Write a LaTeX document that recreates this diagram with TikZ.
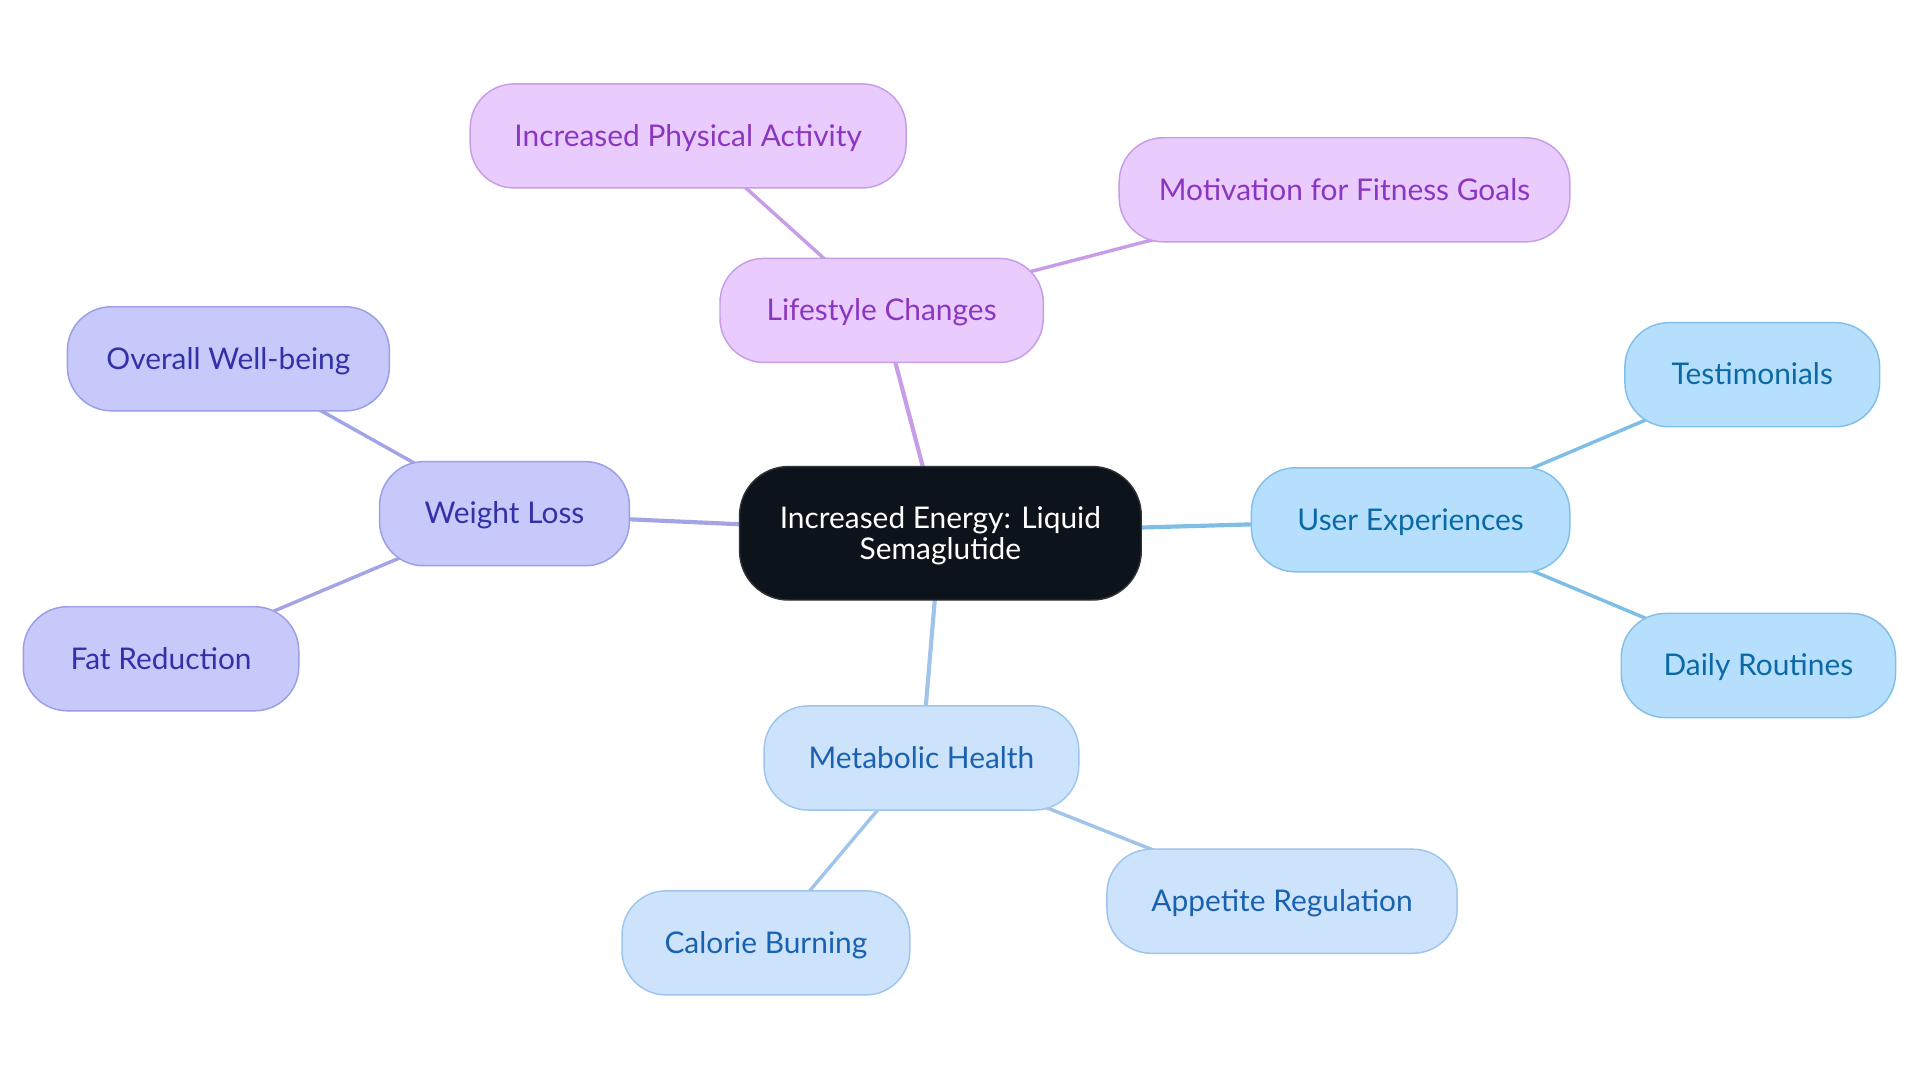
\documentclass[tikz,border=0pt]{standalone}
\usepackage{fontspec}
\setmainfont{Lato}
\usetikzlibrary{backgrounds}
\definecolor{pfill}{HTML}{E9CCFD}
\definecolor{pdraw}{HTML}{C69EE6}
\definecolor{ptext}{HTML}{8B36C2}
\definecolor{pline}{HTML}{C89DE8}
\definecolor{ifill}{HTML}{C7C9FB}
\definecolor{idraw}{HTML}{9C9EE6}
\definecolor{itext}{HTML}{3330A8}
\definecolor{iline}{HTML}{A3A4E6}
\definecolor{sfill}{HTML}{B5DFFC}
\definecolor{sdraw}{HTML}{80C0EA}
\definecolor{stext}{HTML}{0B69A6}
\definecolor{sline}{HTML}{7EBDE6}
\definecolor{bfill}{HTML}{CDE3FB}
\definecolor{bdraw}{HTML}{9EC5EE}
\definecolor{btext}{HTML}{1A62B0}
\definecolor{bline}{HTML}{A0C4EA}
\definecolor{cfill}{HTML}{0D131A}
\definecolor{cdraw}{HTML}{2E3338}
\begin{document}
\begin{tikzpicture}[x=0.5pt,y=-0.5pt,
  basebox/.style={rectangle, rounded corners=18pt, line width=0.6pt, inner sep=0pt,
    align=center, font=\fontsize{12.2}{12.5}\selectfont, minimum height=42.5pt},
  box/.style={basebox, text height=11pt, text depth=2.6pt},
  pbox/.style={box, fill=pfill, draw=pdraw, text=ptext},
  ibox/.style={box, fill=ifill, draw=idraw, text=itext},
  sbox/.style={box, fill=sfill, draw=sdraw, text=stext},
  bbox/.style={box, fill=bfill, draw=bdraw, text=btext},
  cbox/.style={basebox, fill=cfill, draw=cdraw, text=white, rounded corners=20pt, minimum height=54.5pt},
  mainedge/.style={line width=1.7pt},
  subedge/.style={line width=1.4pt}]
\useasboundingbox (0,0) rectangle (1568,884.4);
% nodes
\node[cbox, minimum width=164pt] (c) at (768,435.5) {\rule{0pt}{11pt}Increased Energy: Liquid\\Semaglutide};
\node[pbox, minimum width=132pt] (ls) at (720,253.5) {Lifestyle Changes};
\node[pbox, minimum width=178pt] (ipa) at (562,111) {Increased Physical Activity};
\node[pbox, minimum width=184pt] (mfg) at (1098,155) {Motivation for Fitness Goals};
\node[ibox, minimum width=102pt] (wl) at (412,419.5) {Weight Loss};
\node[ibox, minimum width=131.5pt] (owb) at (186.5,293) {Overall Well-being};
\node[ibox, minimum width=112.5pt] (fr) at (131.5,538) {Fat Reduction};
\node[sbox, minimum width=130pt] (ue) at (1152,424.5) {User Experiences};
\node[sbox, minimum width=104pt] (te) at (1431,306) {Testimonials};
\node[sbox, minimum width=112pt] (dr) at (1436,543.5) {Daily Routines};
\node[bbox, minimum width=128.5pt] (mh) at (752.5,619) {Metabolic Health};
\node[bbox, minimum width=117.5pt] (cb) at (625.5,770) {Calorie Burning};
\node[bbox, minimum width=143pt] (ar) at (1047,736) {Appetite Regulation};
% connectors
\begin{scope}[on background layer]
\fill[white] (0,0) rectangle (1568,884.4);
\draw[mainedge, pline] (c.center) -- (ls.center);
\draw[subedge, pline] (ls.center) -- (ipa.center);
\draw[subedge, pline] (ls.center) -- (mfg.center);
\draw[mainedge, iline] (c.center) -- (wl.center);
\draw[subedge, iline] (wl.center) -- (owb.center);
\draw[subedge, iline] (wl.center) -- (fr.center);
\draw[mainedge, sline] (c.center) -- (ue.center);
\draw[subedge, sline] (ue.center) -- (te.center);
\draw[subedge, sline] (ue.center) -- (dr.center);
\draw[mainedge, bline] (c.center) -- (mh.center);
\draw[subedge, bline] (mh.center) -- (cb.center);
\draw[subedge, bline] (mh.center) -- (ar.center);
\end{scope}
\end{tikzpicture}
\end{document}
